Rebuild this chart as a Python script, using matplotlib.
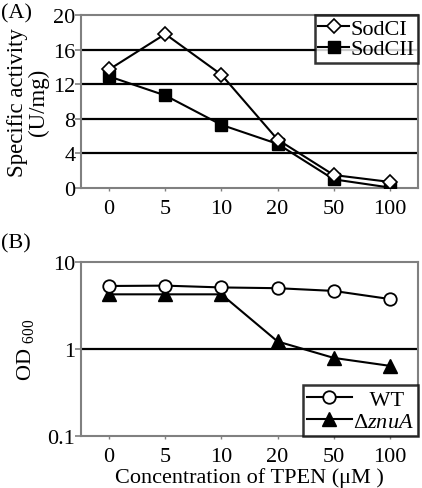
import numpy as np
import matplotlib
matplotlib.use("Agg")
import matplotlib.pyplot as plt

plt.rcParams['font.family'] = ['Liberation Serif', 'DejaVu Serif']
plt.rcParams['mathtext.fontset'] = 'custom'
plt.rcParams['mathtext.rm'] = 'Liberation Serif'
plt.rcParams['mathtext.it'] = 'Liberation Serif:italic'

# data
conc = ["0", "5", "10", "20", "50", "100"]
sodci = [13.7, 17.8, 13.1, 5.6, 1.5, 0.7]
sodcii = [12.9, 10.7, 7.3, 5.1, 1.0, 0.05]
wt = [5.3, 5.35, 5.1, 5.0, 4.65, 3.75]
znua = [4.25, 4.25, 4.25, 1.22, 0.79, 0.64]

fs = 16
gray = '#808080'
x = np.arange(len(conc))

fig = plt.figure(figsize=(4.22, 4.89), dpi=100)
W, H = 422, 489
axA = fig.add_axes([81 / W, 1 - 189 / H, 337 / W, 173 / H])
axB = fig.add_axes([81 / W, 1 - 437 / H, 337 / W, 174 / H])

def style(ax):
    for s in ax.spines.values():
        s.set_color(gray)
        s.set_linewidth(1.5)
    ax.tick_params(axis='y', colors=gray, labelcolor='black', labelsize=fs,
                   length=4, width=1.2, pad=0)
    ax.tick_params(axis='x', colors=gray, labelcolor='black', labelsize=fs,
                   length=2, width=1, pad=6)
    ax.set_xticks(x)
    ax.set_xticklabels(conc)
    ax.set_xlim(-0.5, len(conc) - 0.5)

# panel A
style(axA)
axA.set_ylim(0, 20)
axA.set_yticks([0, 4, 8, 12, 16, 20])
for v in [4, 8, 12, 16]:
    axA.axhline(v, color='black', lw=1.6, zorder=1)
axA.plot(x, sodci, color='black', lw=1.5, marker='D', ms=7, mfc='white',
         mec='black', mew=1.2, label='SodCI', zorder=4)
axA.plot(x, sodcii, color='black', lw=1.5, marker='s', ms=9, mfc='black',
         mec='black', label='SodCII', zorder=3)
axA.set_ylabel('Specific activity\n(U/mg)', fontsize=fs + 0.5, labelpad=3,
               linespacing=1.0)
legA = axA.legend(loc='upper right', fontsize=fs, frameon=True, fancybox=False,
                  borderaxespad=0, handlelength=1.4, handletextpad=0.05,
                  borderpad=0.15, labelspacing=0.0)
legA.get_frame().set_edgecolor('black')
legA.get_frame().set_linewidth(1.8)
fig.text(1 / W, 1 - 14 / H, '(A)', fontsize=fs, va='center', ha='left')

# panel B
style(axB)
axB.set_yscale('log')
axB.set_ylim(0.1, 10)
axB.set_yticks([0.1, 1, 10])
axB.set_yticklabels(['0.1', '1', '10'])
axB.yaxis.set_minor_locator(matplotlib.ticker.NullLocator())
axB.axhline(1, color='black', lw=1.6, zorder=1)
axB.plot(x, wt, color='black', lw=1.5, marker='o', ms=9, mfc='white',
         mec='black', mew=1.3, label='   WT', zorder=4)
axB.plot(x, znua, color='black', lw=1.5, marker='^', ms=10, mfc='black',
         mec='black', label=r'$\Delta\mathit{znuA}$', zorder=3)
axB.set_ylabel(r'OD $_{\mathrm{600}}$', fontsize=fs, labelpad=8)
axB.set_xlabel('Concentration of TPEN (\u03bcM )', fontsize=fs, labelpad=1)
legB = axB.legend(loc='lower right', fontsize=fs, frameon=True, fancybox=False,
                  borderaxespad=0, handlelength=2.0, handletextpad=0.05,
                  borderpad=0.2, labelspacing=0.05)
legB.get_frame().set_edgecolor('black')
legB.get_frame().set_linewidth(1.8)
fig.text(1 / W, 1 - 244 / H, '(B)', fontsize=fs, va='center', ha='left')

fig.savefig('out.png', dpi=100)
